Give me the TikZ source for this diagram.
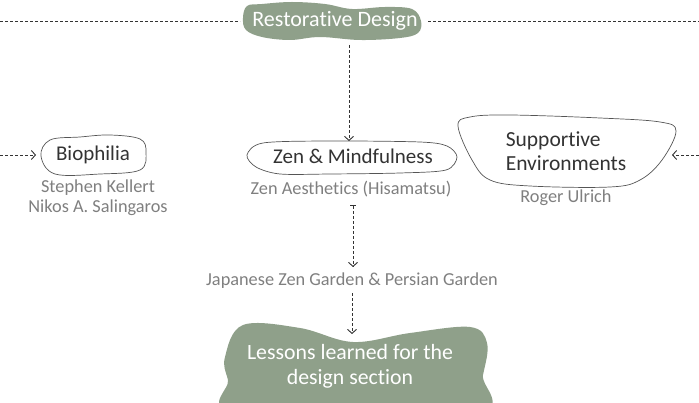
\documentclass[tikz,border=0pt]{standalone}
\usepackage{fontspec}
\setmainfont[Ligatures=NoCommon]{Carlito}
\usetikzlibrary{arrows.meta}
\definecolor{sage}{HTML}{8FA08A}
\definecolor{darktxt}{HTML}{333333}
\definecolor{greytxt}{HTML}{7F7F7F}
\definecolor{lineclr}{HTML}{555555}
\tikzset{
  blobfill/.style={fill=sage,draw=none},
  bloboutline/.style={draw=lineclr,line width=0.7pt},
  titletxt/.style={font=\fontsize{22}{24}\selectfont,text=white,inner sep=1pt},
  maintxt/.style={font=\fontsize{21}{24}\selectfont,text=darktxt,inner sep=1pt},
  subtxt/.style={font=\fontsize{18.3}{20}\selectfont,text=greytxt,inner sep=1pt,align=center},
  conn/.style={draw=darktxt,line width=0.9pt,dash pattern=on 3pt off 2pt,-{Straight Barb[length=4pt,width=9pt]}},
  hline/.style={draw=darktxt,line width=0.9pt,dash pattern=on 3pt off 2pt}
}
\begin{document}
\begin{tikzpicture}[x=1pt,y=-1pt]
\useasboundingbox (0,0) rectangle (699,403);
% blobs
\fill[blobfill] plot[smooth cycle,tension=0.6] coordinates {(247,6) (262,4) (292,2) (325,4) (352,9) (385,7) (412,9) (421,21) (418,33) (400,38) (360,40) (320,37) (290,40) (262,37) (246,30) (243,18)};
\fill[blobfill] plot[smooth cycle,tension=0.6] coordinates {(243,325) (300,328) (353,342) (410,333) (470,327) (487,343) (483,375) (472,415) (240,415) (228,380) (225,357)};
\draw[bloboutline] plot[smooth cycle,tension=0.5] coordinates {(247,155) (263,143) (330,141) (420,142) (447,146) (457,157) (446,170) (400,173) (330,174) (280,174) (256,167)};
\draw[bloboutline] plot[smooth cycle,tension=0.6] coordinates {(41,156) (50,140) (80,137) (110,135) (140,139) (146,152) (140,170) (100,174) (55,174)};
\draw[bloboutline] plot[smooth cycle,tension=0.6] coordinates {(458,126) (470,117) (510,115) (600,118) (660,122) (676,131) (662,160) (640,180) (610,187) (530,186) (490,180) (472,160)};
% text nodes
\node[titletxt] (rest) at (335,21) {Restorative Design};
\node[maintxt] (zen) at (353,156) {Zen \& Mindfulness};
\node[subtxt] (zenae) at (351,189) {Zen Aesthetics (Hisamatsu)};
\node[subtxt] (jap) at (352,281) {Japanese Zen Garden \& Persian Garden};
\node[titletxt,font=\fontsize{21.8}{25}\selectfont,align=center] (less) at (350,366) {Lessons learned for the\\design section};
\node[maintxt] (bio) at (93,155) {Biophilia};
\node[subtxt] (bioauth) at (98,198) {Stephen Kellert\\Nikos A. Salingaros};
\node[maintxt,align=left,font=\fontsize{21.5}{24}\selectfont] (supp) at (566,151) {Supportive\\Environments};
\node[subtxt] (suppauth) at (566,198) {Roger Ulrich};
% coordinates
\coordinate (restbot) at (349,45);
\coordinate (zentop) at (349,141);
\coordinate (japtop) at (353,267);
\coordinate (lesstop) at (352,334);
\coordinate (leftstart) at (0,155);
\coordinate (bioleft) at (36,155);
\coordinate (rightstart) at (699,155);
\coordinate (suppright) at (672,155);
\coordinate (hl1) at (0,21);
\coordinate (hl2) at (240,21);
\coordinate (hr1) at (428,21);
\coordinate (hr2) at (699,21);
% connectors
\draw[hline] (hl1) -- (hl2);
\draw[hline] (hr1) -- (hr2);
\draw[conn] (restbot) -- (zentop);
\draw[conn,{Bar[width=6pt]}-{Straight Barb[length=4pt,width=9pt]}] (zenae.south -| japtop) ++(0,7) -- (japtop);
\draw[conn] (jap.south -| lesstop) ++(0,3) -- (lesstop);
\draw[conn] (leftstart) -- (bioleft);
\draw[conn] (rightstart) -- (suppright);
\end{tikzpicture}
\end{document}
